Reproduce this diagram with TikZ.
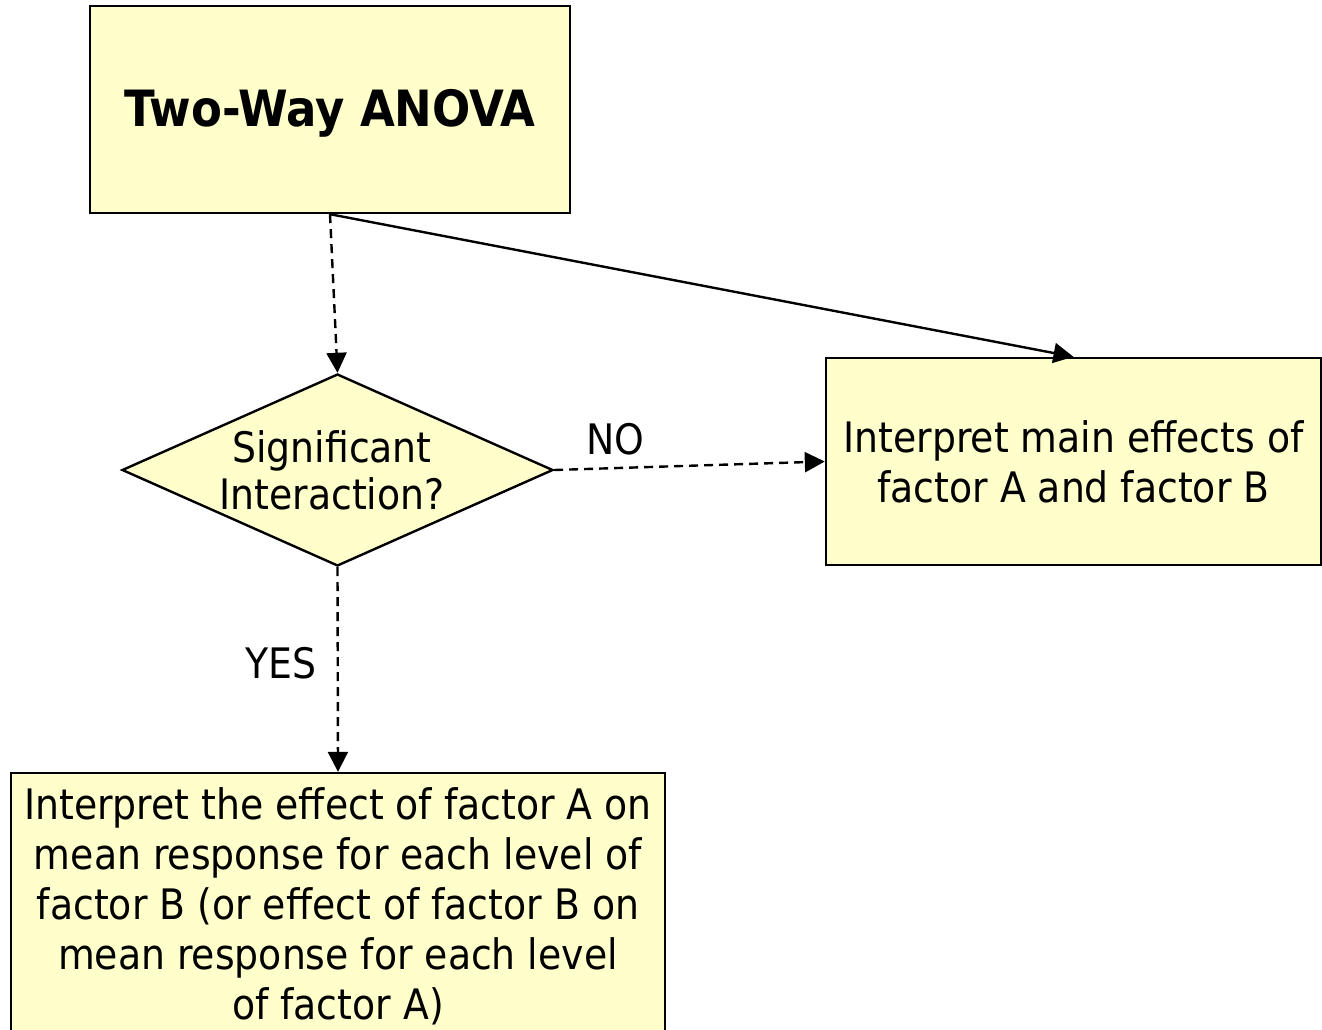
\documentclass[tikz,border=0pt]{standalone}
\usepackage{fontspec}
\IfFontExistsTF{DejaVu Sans Condensed}{\setmainfont{DejaVu Sans Condensed}\newcommand{\fsz}{42}\newcommand{\tsz}{50}}{\setmainfont{DejaVu Sans}\newcommand{\fsz}{38}\newcommand{\tsz}{45}}
\usetikzlibrary{arrows.meta,shapes.geometric}
\definecolor{boxfill}{HTML}{FFFFCC}
\begin{document}
\begin{tikzpicture}[x=1pt,y=-1pt,
  box/.style={draw=black,line width=2.4pt,fill=boxfill,rectangle,inner sep=0pt,align=center,
    font=\fontsize{\fsz}{50}\selectfont},
  dec/.style={draw=black,line width=2.4pt,fill=boxfill,diamond,inner sep=0pt},
  lbl/.style={inner sep=0pt,align=center,font=\fontsize{\fsz}{47}\selectfont},
  conn/.style={line width=2.4pt,-{Triangle[width=20pt,length=20pt]}},
  dsh/.style={conn,dash pattern=on 9pt off 6pt}]
\useasboundingbox (0,0) rectangle (1322,1029);
\clip (0,0) rectangle (1322,1029);
\node[box,minimum width=480pt,minimum height=207pt] (top) at (330,109.5) {};
\node[inner sep=0pt,font=\bfseries\fontsize{\tsz}{55}\selectfont] (title) at (330,113) {Two-Way ANOVA};
\node[dec,minimum width=431pt,minimum height=192pt] (dia) at (337.5,470) {};
\node[lbl] (diatext) at (332,470) {Significant\\Interaction?};
\node[box,minimum width=495pt,minimum height=207pt] (rbox) at (1073.5,461.5) {Interpret main effects of\\ factor A and factor B};
\node[box,minimum width=654pt,minimum height=267pt] (bbox) at (338,906.5) {Interpret the effect of factor A on\\mean response for each level of\\factor B (or effect of factor B on\\mean response for each level\\of factor A)};
\draw[dsh] (top.south) -- (dia.north);
\draw[conn] (top.south) -- (rbox.north);
\draw[dsh] (dia.east) -- (rbox.west);
\draw[dsh] (dia.south) -- (bbox.north);
\node[lbl] (no) at (615,439) {NO};
\node[lbl] (yes) at (281,663) {YES};
\end{tikzpicture}
\end{document}
